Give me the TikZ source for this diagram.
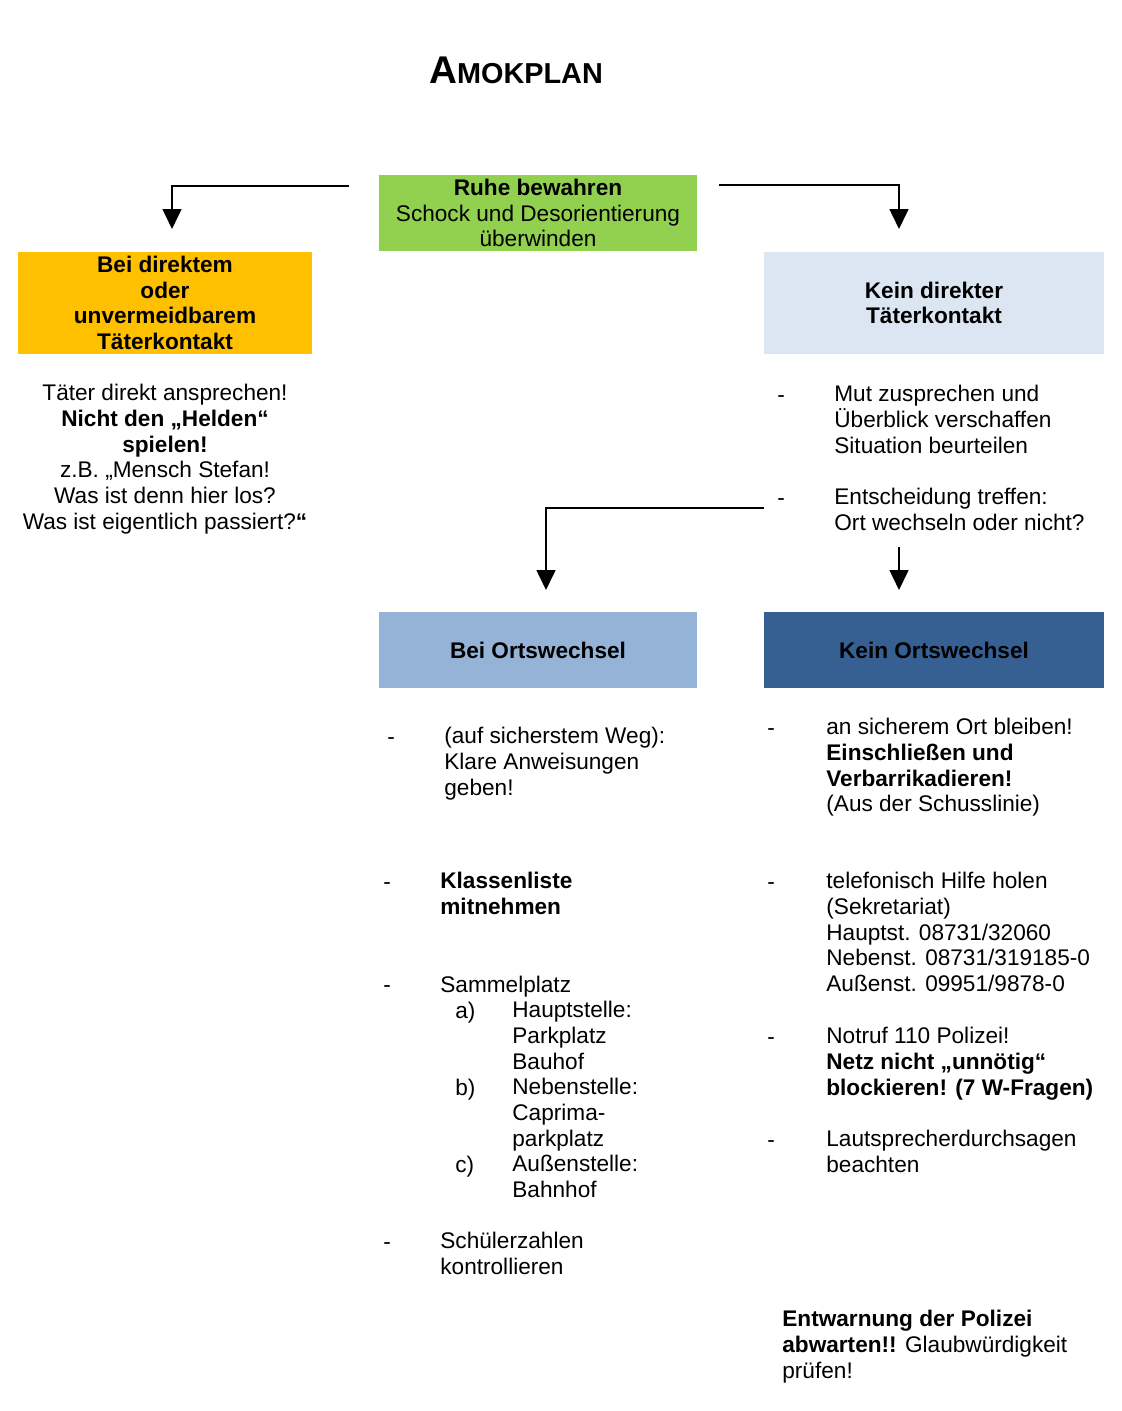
\documentclass[tikz,border=0pt]{standalone}
\usepackage{fontspec}
\setmainfont{Liberation Sans}
\usetikzlibrary{arrows.meta}
\newcommand{\uu}{0.5306pt}
\definecolor{cgreen}{HTML}{92D050}
\definecolor{corange}{HTML}{FFC000}
\definecolor{clight}{HTML}{DCE6F2}
\definecolor{cmid}{HTML}{95B3D7}
\definecolor{cdark}{HTML}{366092}
\tikzset{
  body/.style={font=\fontsize{12}{13.6}\selectfont, inner sep=0pt},
  tl/.style={body, anchor=base west, align=left},
  tcen/.style={body, anchor=base, align=center},
  boxnode/.style={font=\fontsize{12}{13.6}\selectfont\bfseries, inner sep=0pt, align=center},
  arr/.style={line width=1.1pt, -{Triangle[length=10.6pt,width=10pt]}},
}
% anchors are on the baseline of the LAST line: y = first baseline + (n-1)*25.6
\begin{document}
\begin{tikzpicture}[x=0.5306pt,y=-0.5306pt]
\useasboundingbox (0,0) rectangle (1122,1411);
% title
\node (title) [anchor=base, inner sep=0pt, font=\bfseries] at (516,84)
  {\fontsize{20.5}{22}\selectfont A\fontsize{15.3}{17}\selectfont MOKPLAN};
% boxes
\node (ruhe) [boxnode, fill=cgreen, minimum width=318*\uu, minimum height=76*\uu] at (538,213)
  {Ruhe bewahren\\\mdseries Schock und Desorientierung\\\mdseries überwinden};
\node (direkt) [boxnode, fill=corange, minimum width=294*\uu, minimum height=102*\uu] at (165,303)
  {Bei direktem\\oder\\unvermeidbarem\\Täterkontakt};
\node (kein) [boxnode, fill=clight, minimum width=340*\uu, minimum height=102*\uu] at (934,303)
  {Kein direkter\\Täterkontakt};
\node (beiort) [boxnode, fill=cmid, minimum width=318*\uu, minimum height=76*\uu] at (538,650)
  {Bei Ortswechsel};
\node (keinort) [boxnode, fill=cdark, minimum width=340*\uu, minimum height=76*\uu] at (934,650)
  {Kein Ortswechsel};
% connectors
\coordinate (s1) at (349,186);
\coordinate (e1) at (172,229);
\coordinate (s2) at (719,185);
\coordinate (e2) at (899,229);
\coordinate (s3) at (764,508);
\coordinate (e3) at (546,590);
\coordinate (s4) at (899,547);
\coordinate (e4) at (899,590);
\draw[arr] (s1) -| (e1);
\draw[arr] (s2) -| (e2);
\draw[arr] (s3) -| (e3);
\draw[arr] (s4) -- (e4);
% left text
\node (lt) [tcen] at (165,{401+5*25.6}) {Täter direkt ansprechen!\\
  \textbf{Nicht den „Helden“}\\\textbf{spielen!}\\z.B. „Mensch Stefan!\\Was ist denn hier los?\\Was ist eigentlich passiert?\textbf{“}};
% right upper text
\node (d1) [tl] at (777,402) {-};
\node (r1) [tl] at (834,{402+2*25.6}) {Mut zusprechen und\\Überblick verschaffen\\Situation beurteilen};
\node (d2) [tl] at (777,505) {-};
\node (r2) [tl] at (834,{505+25.6}) {Entscheidung treffen:\\Ort wechseln oder nicht?};
% Bei Ortswechsel column
\node (d3) [tl] at (387,744) {-};
\node (b1) [tl] at (444,{744+2*25.6}) {(auf sicherstem Weg):\\Klare Anweisungen\\geben!};
\node (d4) [tl] at (383,889) {-};
\node (b2) [tl] at (440,{889+25.6}) {\textbf{Klassenliste}\\\textbf{mitnehmen}};
\node (d5) [tl] at (383,992) {-};
\node (b3) [tl] at (440,992) {Sammelplatz};
\node (la) [tl] at (455,1018) {a)};
\node (ta) [tl] at (512,{1018+2*25.6}) {Hauptstelle:\\Parkplatz\\Bauhof};
\node (lb) [tl] at (455,1095) {b)};
\node (tb) [tl] at (512,{1095+2*25.6}) {Nebenstelle:\\Caprima-\\parkplatz};
\node (lc) [tl] at (455,1172) {c)};
\node (tcc) [tl] at (512,{1172+25.6}) {Außenstelle:\\Bahnhof};
\node (d6) [tl] at (383,1249) {-};
\node (b4) [tl] at (440,{1249+25.6}) {Schülerzahlen\\kontrollieren};
% Kein Ortswechsel column
\node (d7) [tl] at (767,735) {-};
\node (k1) [tl] at (826,{735+3*25.6}) {an sicherem Ort bleiben!\\\textbf{Einschließen und}\\\textbf{Verbarrikadieren!}\\(Aus der Schusslinie)};
\node (d8) [tl] at (767,889) {-};
\node (k2) [tl] at (826,{889+4*25.6}) {telefonisch Hilfe holen\\(Sekretariat)\\Hauptst. 08731/32060\\Nebenst. 08731/319185-0\\Außenst. 09951/9878-0};
\node (d9) [tl] at (767,1044) {-};
\node (k3) [tl] at (826,{1044+2*25.6}) {Notruf 110 Polizei!\\\textbf{Netz nicht „unnötig“}\\\textbf{blockieren! (7 W-Fragen)}};
\node (d10) [tl] at (767,1147) {-};
\node (k4) [tl] at (826,{1147+25.6}) {Lautsprecherdurchsagen\\beachten};
% bottom
\node (bot) [tl] at (782,{1327+2*25.6}) {\textbf{Entwarnung der Polizei}\\\textbf{abwarten!!} Glaubwürdigkeit\\prüfen!};
\end{tikzpicture}
\end{document}
